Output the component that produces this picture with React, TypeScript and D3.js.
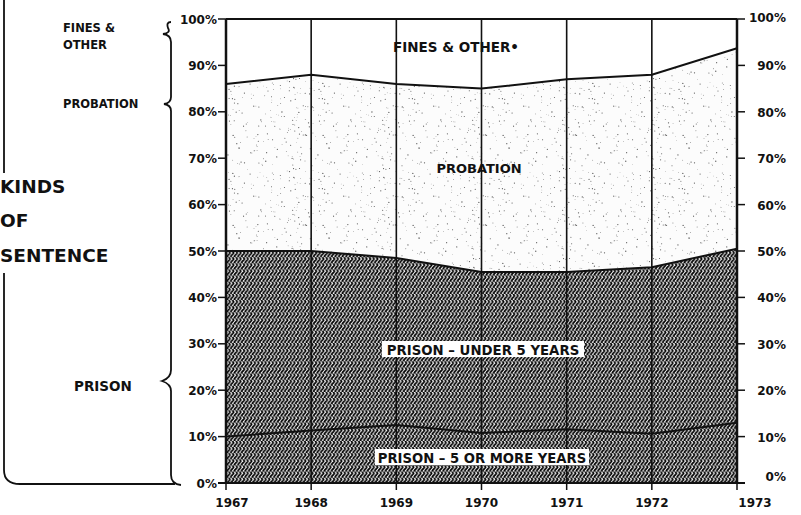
import * as d3 from "d3";
import React from "react";

const years = [1967, 1968, 1969, 1970, 1971, 1972, 1973];
const prisonLong = [10, 11.3, 12.5, 10.8, 11.6, 10.6, 13];
const prisonShort = [40, 38.7, 36, 34.7, 33.9, 35.9, 37.5];
const probation = [36, 38, 37.5, 39.5, 41.5, 41.5, 43.2];
const finesOther = [14, 12, 14, 15, 13, 12, 6.3];
const yTicks = [0, 10, 20, 30, 40, 50, 60, 70, 80, 90, 100];

const keys = ["long", "short", "probation", "fines"];

export default function App() {
  const W = 801, H = 515;
  const x0 = 226, x1 = 737, yTop = 19, yBot = 483;
  const x = d3.scaleLinear().domain([1967, 1973]).range([x0, x1]);
  const y = d3.scaleLinear().domain([0, 100]).range([yBot, yTop]);

  const rows = years.map((yr, i) => ({
    year: yr,
    long: prisonLong[i],
    short: prisonShort[i],
    probation: probation[i],
    fines: finesOther[i],
  }));
  const stacked = d3.stack<any>().keys(keys)(rows);
  const area = d3
    .area<any>()
    .x((d) => x(d.data.year))
    .y0((d) => y(d[0]))
    .y1((d) => y(Math.min(d[1], 100)));
  const topLine = d3
    .line<any>()
    .x((d) => x(d.data.year))
    .y((d) => y(d[1]));

  // stipple texture (decorative only)
  const dots: [number, number, number][] = [];
  let s = 17;
  const rnd = () => {
    s = (s * 9301 + 49297) % 233280;
    return s / 233280;
  };
  for (let i = 0; i < 190; i++) dots.push([rnd() * 90, rnd() * 90, 0.3 + rnd() * 0.35]);

  const fills = ["url(#wave)", "url(#wave)", "url(#stip)", "white"];
  const font = "'DejaVu Sans', Verdana, sans-serif";
  const yearShift = (yr: number) => (yr === 1967 ? 6 : yr === 1973 ? 18 : 0);
  const wave = (cx: number) =>
    `M${cx},0 C${cx + 2},2 ${cx + 2},2 ${cx},4 C${cx - 2},6 ${cx - 2},6 ${cx},8`;

  return (
    <svg width={W} height={H} style={{ position: "absolute", left: 0, top: 0, background: "white" }} fontFamily={font} fontWeight="bold">
      <defs>
        <pattern id="wave" width="3.6" height="7" patternUnits="userSpaceOnUse" patternTransform="scale(1,0.875)">
          <rect width="3.6" height="8" fill="white" />
          {[-3.6, 0, 3.6].map((o) => (
            <path key={o} d={wave(1.8 + o)} fill="none" stroke="#000" strokeWidth="1.8" />
          ))}
        </pattern>
        <pattern id="stip" width="90" height="90" patternUnits="userSpaceOnUse">
          <rect width="90" height="90" fill="#fcfcfc" />
          {dots.map((d, i) => (
            <circle key={i} cx={d[0]} cy={d[1]} r={d[2]} fill="#555" />
          ))}
        </pattern>
      </defs>

      {stacked.map((layer, i) => (
        <path key={keys[i]} d={area(layer) || ""} fill={fills[i]} />
      ))}
      {stacked.slice(0, 3).map((layer, i) => (
        <path key={"l" + i} d={topLine(layer) || ""} fill="none" stroke="#111" strokeWidth={2} />
      ))}

      {/* vertical grid lines */}
      {years.map((yr) => (
        <line key={yr} x1={x(yr)} x2={x(yr)} y1={yTop} y2={yBot} stroke="#111" strokeWidth={yr === 1967 || yr === 1973 ? 2.5 : 1.6} />
      ))}
      <line x1={x0} x2={x1} y1={yTop} y2={yTop} stroke="#111" strokeWidth={2} />
      <line x1={x0 - 8} x2={x1 + 8} y1={yBot} y2={yBot} stroke="#111" strokeWidth={2} />

      {/* left axis */}
      {yTicks.map((t) => (
        <g key={"ly" + t}>
          <line x1={x0 - 8} x2={x0} y1={y(t)} y2={y(t)} stroke="#111" strokeWidth={1.5} />
          <text x={x0 - 9} y={y(t) + 4.5} textAnchor="end" fontSize={12} fill="#111">
            {t}%
          </text>
        </g>
      ))}
      {/* right axis */}
      {yTicks.map((t) => (
        <g key={"ry" + t}>
          <line x1={x1} x2={x1 + 8} y1={y(t)} y2={y(t)} stroke="#111" strokeWidth={1.5} />
          <text x={786} y={y(t) + (t === 0 ? -2 : t === 100 ? 3 : 5)} textAnchor="end" fontSize={12} fill="#111">
            {t}%
          </text>
        </g>
      ))}
      {/* x axis */}
      {years.map((yr) => (
        <g key={"x" + yr}>
          <line x1={x(yr)} x2={x(yr)} y1={yBot} y2={yBot + 7} stroke="#111" strokeWidth={1.5} />
          <text x={x(yr) + yearShift(yr)} y={507} textAnchor="middle" fontSize={12} fill="#111">
            {yr}
          </text>
        </g>
      ))}

      {/* in-chart labels */}
      <text x={456} y={52} textAnchor="middle" fontSize={13.5} fill="#111">
        FINES &amp; OTHER•
      </text>
      <text x={479} y={173} textAnchor="middle" fontSize={13} fill="#111">
        PROBATION
      </text>
      <rect x={382} y={341} width={202} height={16} fill="white" />
      <text x={483} y={355} textAnchor="middle" fontSize={13.3} fill="#111">
        PRISON – UNDER 5 YEARS
      </text>
      <rect x={375} y={449} width={214} height={16} fill="white" />
      <text x={482} y={463} textAnchor="middle" fontSize={13.2} fill="#111">
        PRISON – 5 OR MORE YEARS
      </text>

      {/* left annotations */}
      <text x={63} y={32} fontSize={11.5} fill="#111">FINES &amp;</text>
      <text x={63} y={49} fontSize={11.5} fill="#111">OTHER</text>
      <text x={63} y={108} fontSize={11.5} fill="#111">PROBATION</text>
      <text x={74} y={391} fontSize={13.5} fill="#111">PRISON</text>
      <text x={0} y={193} fontSize={18.5} fill="#111">KINDS</text>
      <text x={0} y={227} fontSize={18.5} fill="#111">OF</text>
      <text x={0} y={262} fontSize={18.5} fill="#111">SENTENCE</text>

      {/* braces */}
      <path
        d="M171,22 Q166,22 168,28 Q171,33 163,34 Q171,35 171,42 L171,97 Q171,103 164,104 Q171,105 171,111 L171,370 Q171,378 162,381 Q171,384 171,391 L171,475 Q171,484 181,485"
        fill="none" stroke="#111" strokeWidth={1.8}
      />
      <path d="M4,0 L4,173" fill="none" stroke="#111" strokeWidth={1.8} />
      <path d="M4,273 L4,470 Q4,484 20,484 L175,484" fill="none" stroke="#111" strokeWidth={1.8} />
    </svg>
  );
}
